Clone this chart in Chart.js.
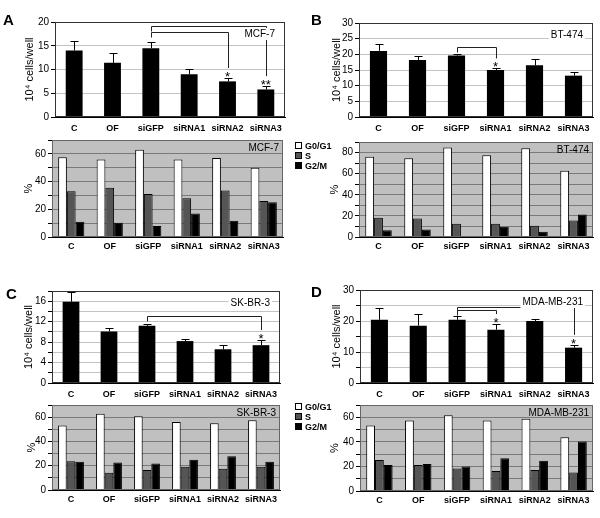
<!DOCTYPE html>
<html>
<head>
<meta charset="utf-8">
<script src="https://cdn.jsdelivr.net/npm/chart.js@4.4.1/dist/chart.umd.min.js"></script>
<style>
body{margin:0;background:#fff;font-family:"Liberation Sans",Arial,sans-serif;}
#figura{position:relative;width:600px;height:518px;overflow:hidden;}
canvas{position:absolute;}
.letra{position:absolute;font-weight:bold;font-size:15px;line-height:15px;}
.legenda{position:absolute;font-size:9px;font-weight:bold;line-height:10px;z-index:2;}
.legenda .q{display:inline-block;width:5px;height:5px;border:1px solid #000;margin-right:3px;vertical-align:0;}
</style>
</head>
<body>
<div id="figura">
  <canvas id="aCel"></canvas>
  <canvas id="aCiclo"></canvas>
  <canvas id="bCel"></canvas>
  <canvas id="bCiclo"></canvas>
  <canvas id="cCel"></canvas>
  <canvas id="cCiclo"></canvas>
  <canvas id="dCel"></canvas>
  <canvas id="dCiclo"></canvas>
  <div class="letra" style="left:3px;top:12px">A</div>
  <div class="letra" style="left:311px;top:12px">B</div>
  <div class="letra" style="left:6px;top:286px">C</div>
  <div class="letra" style="left:311px;top:284px">D</div>
  <div class="legenda" id="legenda1" style="left:295px;top:141px"></div>
  <div class="legenda" id="legenda2" style="left:295px;top:402px"></div>
</div>
<script>
const categorias = ["C", "OF", "siGFP", "siRNA1", "siRNA2", "siRNA3"];
const fases = ["G0/G1", "S", "G2/M"];
const coresFases = ["#ffffff", "#555555", "#000000"];

// MCF-7
const mcf7Celulas = [14, 11.4, 14.5, 9, 7.5, 5.8];
const mcf7Erro = [2, 2.1, 1.3, 1.2, 0.7, 0.7];
const mcf7G1 = [57.5, 56, 63, 56, 57, 50];
const mcf7S = [33, 35.5, 31, 28, 33.5, 26];
const mcf7G2M = [11, 10.3, 8, 17, 11.8, 25];
const mcf7Chaves = [[2, 5, 19.1], [2, 4, 17.8]];
const mcf7Estrelas = ["", "", "", "", "*", "**"];

// BT-474
const bt474Celulas = [21.1, 18.2, 19.6, 15, 16.5, 13.2];
const bt474Erro = [2.1, 1.4, 0.4, 0.5, 1.9, 1.1];
const bt474G1 = [76, 74.6, 84.7, 77.4, 84, 62.7];
const bt474S = [18.2, 17.6, 12.5, 12.5, 10.7, 15.7];
const bt474G2M = [6.3, 7.2, 0, 9.7, 5, 21.3];
const bt474Chaves = [[2, 3, 22.4]];
const bt474Estrelas = ["", "", "", "*", "", ""];

// SK-BR-3
const skbr3Celulas = [15.9, 10.1, 11.2, 8.2, 6.6, 7.4];
const skbr3Erro = [1.9, 0.6, 0.4, 0.4, 0.8, 1.0];
const skbr3G1 = [53.2, 62.7, 60.8, 55.9, 55, 57.5];
const skbr3S = [23.7, 14.2, 16.4, 19.1, 17.5, 19.1];
const skbr3G2M = [23.2, 22.6, 21.8, 25, 27.8, 23.2];
const skbr3Chaves = [[2, 5, 13.2]];
const skbr3Estrelas = ["", "", "", "", "", "*"];

// MDA-MB-231
const mdaCelulas = [20.4, 18.5, 20.4, 17.2, 20, 11.4];
const mdaErro = [3.7, 3.9, 1.1, 1.8, 0.6, 0.9];
const mdaG1 = [53.4, 57.3, 61.6, 57.3, 58.9, 43.8];
const mdaS = [25.2, 21.1, 18.4, 16.2, 17, 15.1];
const mdaG2M = [21.1, 21.9, 20, 26.6, 24.7, 40.3];
const mdaChaves = [[2, 5, 24.5], [2, 3, 23.4]];
const mdaEstrelas = ["", "", "", "*", "", "*"];

function montarLegenda(id){
    let div = document.getElementById(id);
    div.innerHTML = "";
    for(let i = 0; i < fases.length; i++){
        div.innerHTML += '<div><span class="q" style="background:' + coresFases[i] + '"></span>' + fases[i] + '</div>';
    }
}

// caixa = canvas [left, top, w, h]; area = plot [x0, y0, x1, y1]
function medidas(id, caixa, area){
    let c = document.getElementById(id);
    c.style.left = caixa[0] + "px";
    c.style.top = caixa[1] + "px";
    c.width = caixa[2];
    c.height = caixa[3];
    return {
        canvas: c,
        yLargura: area[0] - caixa[0],
        xAltura: caixa[1] + caixa[3] - area[3],
        topo: area[1] - caixa[1],
        direita: caixa[0] + caixa[2] - area[2]
    };
}

function pluginMoldura(nome, fundo, corBorda, recuo, desceTexto, caixaBranca){
    return {
        id: "moldura",
        beforeDraw(chart){
            if(!fundo) return;
            const a = chart.chartArea;
            chart.ctx.save();
            chart.ctx.fillStyle = fundo;
            chart.ctx.fillRect(a.left, a.top, a.right - a.left, a.bottom - a.top);
            chart.ctx.restore();
        },
        afterDraw(chart){
            const ctx = chart.ctx;
            const a = chart.chartArea;
            ctx.save();
            ctx.strokeStyle = corBorda;
            ctx.lineWidth = 1;
            ctx.strokeRect(Math.round(a.left) + 0.5, Math.round(a.top) + 0.5, Math.round(a.right - a.left) - 1, Math.round(a.bottom - a.top) - 1);
            ctx.font = '10px "Liberation Sans", Arial, sans-serif';
            ctx.textAlign = "right";
            ctx.textBaseline = "middle";
            const x = a.right - recuo;
            const y = a.top + desceTexto;
            if(caixaBranca){
                const w = ctx.measureText(nome).width;
                ctx.fillStyle = "#fff";
                ctx.fillRect(x - w - 2, y - 6, w + 4, 12);
            }
            ctx.fillStyle = "#000";
            ctx.fillText(nome, x, y);
            ctx.restore();
        }
    };
}

function pluginErros(valores, erros, chaves, estrelas){
    return {
        id: "erros",
        afterDatasetsDraw(chart){
            const ctx = chart.ctx;
            const y = chart.scales.y;
            const barras = chart.getDatasetMeta(0).data;
            ctx.save();
            ctx.strokeStyle = "#000";
            ctx.lineWidth = 1;
            barras.forEach((b, i) => {
                const x = Math.round(b.x) + 0.5;
                const topo = Math.round(y.getPixelForValue(valores[i] + erros[i])) + 0.5;
                ctx.beginPath();
                ctx.moveTo(x, b.y);
                ctx.lineTo(x, topo);
                ctx.moveTo(x - 4, topo);
                ctx.lineTo(x + 4, topo);
                ctx.stroke();
            });
            ctx.strokeStyle = "#222";
            chaves.forEach(c => {
                const xa = Math.round(barras[c[0]].x) + 0.5;
                const xb = Math.round(barras[c[1]].x) + 0.5;
                const yl = Math.round(y.getPixelForValue(c[2])) + 0.5;
                const fim = y.getPixelForValue(valores[c[1]] + erros[c[1]]) - 10;
                ctx.beginPath();
                ctx.moveTo(xa, yl + 5);
                ctx.lineTo(xa, yl);
                ctx.lineTo(xb, yl);
                ctx.lineTo(xb, fim);
                ctx.stroke();
            });
            ctx.fillStyle = "#000";
            ctx.font = '13px "Liberation Sans", Arial, sans-serif';
            ctx.textAlign = "center";
            ctx.textBaseline = "alphabetic";
            estrelas.forEach((e, i) => {
                if(!e) return;
                const topo = y.getPixelForValue(valores[i] + erros[i]);
                ctx.fillText(e, barras[i].x, topo + 3);
            });
            ctx.restore();
        }
    };
}

function eixoY(m, max, passo, passoRotulo, titulo, tituloX, corGrade){
    return {
        min: 0,
        max: max,
        border: {color: "#000"},
        grid: {color: corGrade, tickColor: "#000", tickLength: 4},
        ticks: {
            stepSize: passo,
            autoSkip: false,
            color: "#000",
            padding: 2,
            font: {family: '"Liberation Sans", Arial, sans-serif', size: 10},
            callback: v => (v % passoRotulo === 0 ? v : "")
        },
        title: {
            display: true,
            text: titulo,
            color: "#000",
            font: {family: '"Liberation Sans", Arial, sans-serif', size: 11},
            padding: {top: tituloX - 6.6, bottom: 0}
        },
        afterFit: s => { s.width = m.yLargura; }
    };
}

function eixoX(m, pad){
    return {
        grid: {display: false, drawTicks: false},
        border: {color: "#000"},
        ticks: {
            color: "#000",
            padding: pad,
            autoSkip: false,
            maxRotation: 0,
            font: {family: '"Liberation Sans", Arial, sans-serif', size: 9, weight: "bold"}
        },
        afterFit: s => { s.height = m.xAltura; }
    };
}

function graficoCelulas(id, caixa, area, nome, valores, erros, chaves, estrelas, max, passo, passoRotulo, tituloX){
    const m = medidas(id, caixa, area);
    return new Chart(m.canvas, {
        type: "bar",
        data: {
            labels: categorias,
            datasets: [{
                label: nome,
                data: valores,
                backgroundColor: "#000",
                categoryPercentage: 0.44,
                barPercentage: 1
            }]
        },
        options: {
            responsive: false,
            animation: false,
            layout: {padding: {top: m.topo, right: m.direita, left: 0, bottom: 0}},
            plugins: {legend: {display: false}, tooltip: {enabled: false}},
            scales: {
                x: eixoX(m, 6),
                y: eixoY(m, max, passo, passoRotulo, "10\u2074 cells/well", tituloX, "#c4c4c4")
            }
        },
        plugins: [pluginErros(valores, erros, chaves, estrelas), pluginMoldura(nome, null, "#333", 10, 12, true)]
    });
}

function graficoCiclo(id, caixa, area, nome, g1, s, g2m, max, tituloX){
    const m = medidas(id, caixa, area);
    const series = [g1, s, g2m];
    return new Chart(m.canvas, {
        type: "bar",
        data: {
            labels: categorias,
            datasets: series.map((serie, i) => ({
                label: fases[i],
                data: serie,
                backgroundColor: coresFases[i],
                borderColor: "#000",
                borderWidth: 1,
                categoryPercentage: 0.68,
                barPercentage: 1
            }))
        },
        options: {
            responsive: false,
            animation: false,
            layout: {padding: {top: m.topo, right: m.direita, left: 0, bottom: 0}},
            plugins: {legend: {display: false}, tooltip: {enabled: false}},
            scales: {
                x: eixoX(m, 4),
                y: eixoY(m, max, 10, 20, "%", tituloX, "#7a7a7a")
            }
        },
        plugins: [pluginMoldura(nome, "#c0c0c0", "#666", 4, 8, false)]
    });
}

graficoCelulas("aCel", [0, 8, 292, 130], [55, 22, 285, 117], "MCF-7", mcf7Celulas, mcf7Erro, mcf7Chaves, mcf7Estrelas, 20, 5, 5, 30);
graficoCiclo("aCiclo", [0, 128, 290, 125], [52, 140, 283, 237], "MCF-7", mcf7G1, mcf7S, mcf7G2M, 70, 29);

graficoCelulas("bCel", [300, 8, 298, 130], [359, 23, 593, 117], "BT-474", bt474Celulas, bt474Erro, bt474Chaves, bt474Estrelas, 30, 5, 5, 37);
graficoCiclo("bCiclo", [300, 128, 298, 125], [359, 142, 593, 237], "BT-474", bt474G1, bt474S, bt474G2M, 90, 35);

graficoCelulas("cCel", [0, 275, 290, 128], [52, 291, 280, 383], "SK-BR-3", skbr3Celulas, skbr3Erro, skbr3Chaves, skbr3Estrelas, 18, 2, 4, 29);
graficoCiclo("cCiclo", [0, 393, 290, 113], [52, 405, 280, 490], "SK-BR-3", skbr3G1, skbr3S, skbr3G2M, 70, 32);

graficoCelulas("dCel", [300, 275, 298, 128], [360, 290, 593, 383], "MDA-MB-231", mdaCelulas, mdaErro, mdaChaves, mdaEstrelas, 30, 5, 10, 37);
graficoCiclo("dCiclo", [300, 393, 298, 113], [360, 405, 593, 491], "MDA-MB-231", mdaG1, mdaS, mdaG2M, 70, 35);

montarLegenda("legenda1");
montarLegenda("legenda2");
</script>
</body>
</html>
